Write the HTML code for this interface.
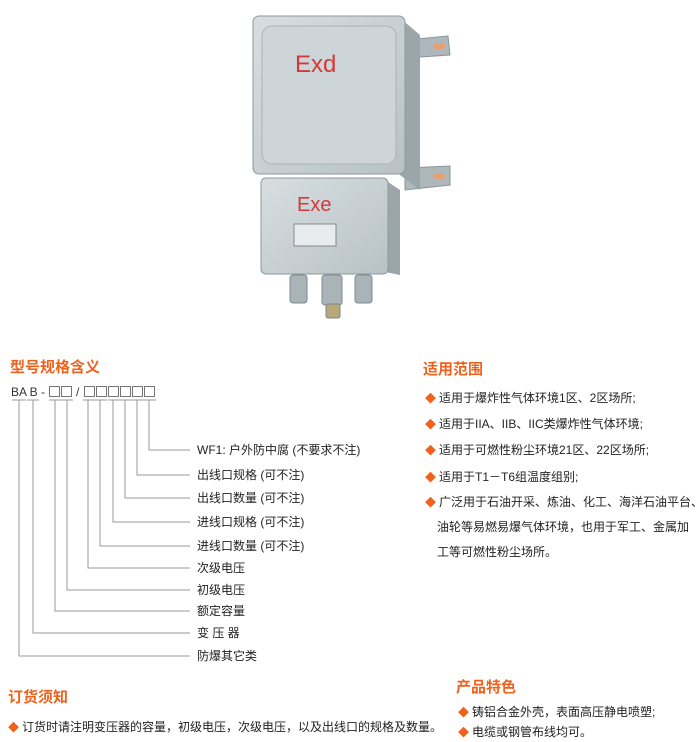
<!DOCTYPE html>
<html><head><meta charset="utf-8"><style>
body{margin:0;width:700px;height:742px;background:#fff;position:relative;overflow:hidden;font-family:"Liberation Sans","Noto Sans CJK SC",sans-serif;color:#222}
.a{position:absolute;white-space:nowrap}
.h{color:#f0621c;font-size:15px;font-weight:bold}
.t{font-size:12px;line-height:14px}
.d{color:#f0621c;font-size:11px;margin-right:3px}
</style></head><body>
<svg class="a" style="left:0;top:0" width="700" height="742">
<defs><linearGradient id="g" x1="0" y1="0" x2="1" y2="1"><stop offset="0" stop-color="#d8dee0"/><stop offset="1" stop-color="#b8c2c6"/></linearGradient></defs>
<path d="M405 40 L448 36 L450 55 L405 58Z" fill="#aeb8bc" stroke="#8a969a"/>
<path d="M405 168 L450 166 L450 185 L405 190Z" fill="#aeb8bc" stroke="#8a969a"/>
<rect x="433" y="43" width="12" height="6" rx="3" fill="#e8a070"/>
<rect x="433" y="173" width="12" height="6" rx="3" fill="#e8a070"/>
<path d="M400 18 L420 35 L420 190 L400 175Z" fill="#9aa6aa"/>
<rect x="253" y="16" width="152" height="158" rx="6" fill="url(#g)" stroke="#8e9a9e"/>
<rect x="262" y="26" width="134" height="138" rx="10" fill="#cdd5d8" stroke="#a9b3b7"/>
<text x="295" y="72" fill="#d23a3a" font-size="24" font-family="Liberation Sans">Exd</text>
<path d="M385 180 L400 190 L400 275 L385 272Z" fill="#9aa6aa"/>
<rect x="261" y="178" width="127" height="96" rx="5" fill="url(#g)" stroke="#8e9a9e"/>
<text x="297" y="211" fill="#d23a3a" font-size="20" font-family="Liberation Sans">Exe</text>
<rect x="294" y="224" width="42" height="22" fill="#e8ecee" stroke="#888"/>
<g fill="#aab4b8" stroke="#7d898d">
<rect x="290" y="275" width="17" height="28" rx="3"/><rect x="322" y="275" width="20" height="30" rx="3"/><rect x="355" y="275" width="17" height="28" rx="3"/>
<rect x="326" y="304" width="14" height="14" rx="2" fill="#b8a878"/>
</g>
<g stroke="#555" stroke-width="0.8" fill="none">
<rect x="49.5" y="386.5" width="10" height="10"/><rect x="61.5" y="386.5" width="10" height="10"/>
<rect x="84.5" y="386.5" width="10" height="10"/><rect x="96.5" y="386.5" width="10" height="10"/><rect x="108.5" y="386.5" width="10" height="10"/><rect x="120.5" y="386.5" width="10" height="10"/><rect x="132.5" y="386.5" width="10" height="10"/><rect x="144.5" y="386.5" width="10" height="10"/>
</g>
<g stroke="#999" stroke-width="1" fill="none">
<path d="M12 400h14M27 400h12M49 400h12M61 400h12M83 400h12M95 400h12M108 400h12M120 400h12M132 400h12M144 400h12"/>
<path d="M149 400V450H190M137 400V475H190M125 400V498H190M113 400V522H190M100 400V546H190M88 400V568H190M67 400V590H190M55 400V611H190M33 400V633H190M19 400V656H190"/>
</g>
</svg>
<div class="a h" style="left:10px;top:356px">型号规格含义</div>
<div class="a t" style="left:11px;top:385px;color:#333">BA B -</div>
<div class="a t" style="left:76px;top:385px;color:#333">/</div>
<div class="a t" style="left:197px;top:443px">WF1: 户外防中腐 (不要求不注)</div>
<div class="a t" style="left:197px;top:468px">出线口规格 (可不注)</div>
<div class="a t" style="left:197px;top:491px">出线口数量 (可不注)</div>
<div class="a t" style="left:197px;top:515px">进线口规格 (可不注)</div>
<div class="a t" style="left:197px;top:539px">进线口数量 (可不注)</div>
<div class="a t" style="left:197px;top:561px">次级电压</div>
<div class="a t" style="left:197px;top:583px">初级电压</div>
<div class="a t" style="left:197px;top:604px">额定容量</div>
<div class="a t" style="left:197px;top:626px">变 压 器</div>
<div class="a t" style="left:197px;top:649px">防爆其它类</div>

<div class="a h" style="left:423px;top:358px">适用范围</div>
<div class="a t" style="left:425px;top:391px"><span class="d">◆</span>适用于爆炸性气体环境1区、2区场所;</div>
<div class="a t" style="left:425px;top:417px"><span class="d">◆</span>适用于IIA、IIB、IIC类爆炸性气体环境;</div>
<div class="a t" style="left:425px;top:443px"><span class="d">◆</span>适用于可燃性粉尘环境21区、22区场所;</div>
<div class="a t" style="left:425px;top:470px"><span class="d">◆</span>适用于T1－T6组温度组别;</div>
<div class="a t" style="left:425px;top:495px"><span class="d">◆</span>广泛用于石油开采、炼油、化工、海洋石油平台、</div>
<div class="a t" style="left:437px;top:520px">油轮等易燃易爆气体环境，也用于军工、金属加</div>
<div class="a t" style="left:437px;top:545px">工等可燃性粉尘场所。</div>

<div class="a h" style="left:8px;top:686px">订货须知</div>
<div class="a t" style="left:8px;top:720px"><span class="d">◆</span>订货时请注明变压器的容量，初级电压，次级电压，以及出线口的规格及数量。</div>
<div class="a h" style="left:456px;top:676px">产品特色</div>
<div class="a t" style="left:458px;top:705px"><span class="d">◆</span>铸铝合金外壳，表面高压静电喷塑;</div>
<div class="a t" style="left:458px;top:725px"><span class="d">◆</span>电缆或钢管布线均可。</div>
</body></html>
